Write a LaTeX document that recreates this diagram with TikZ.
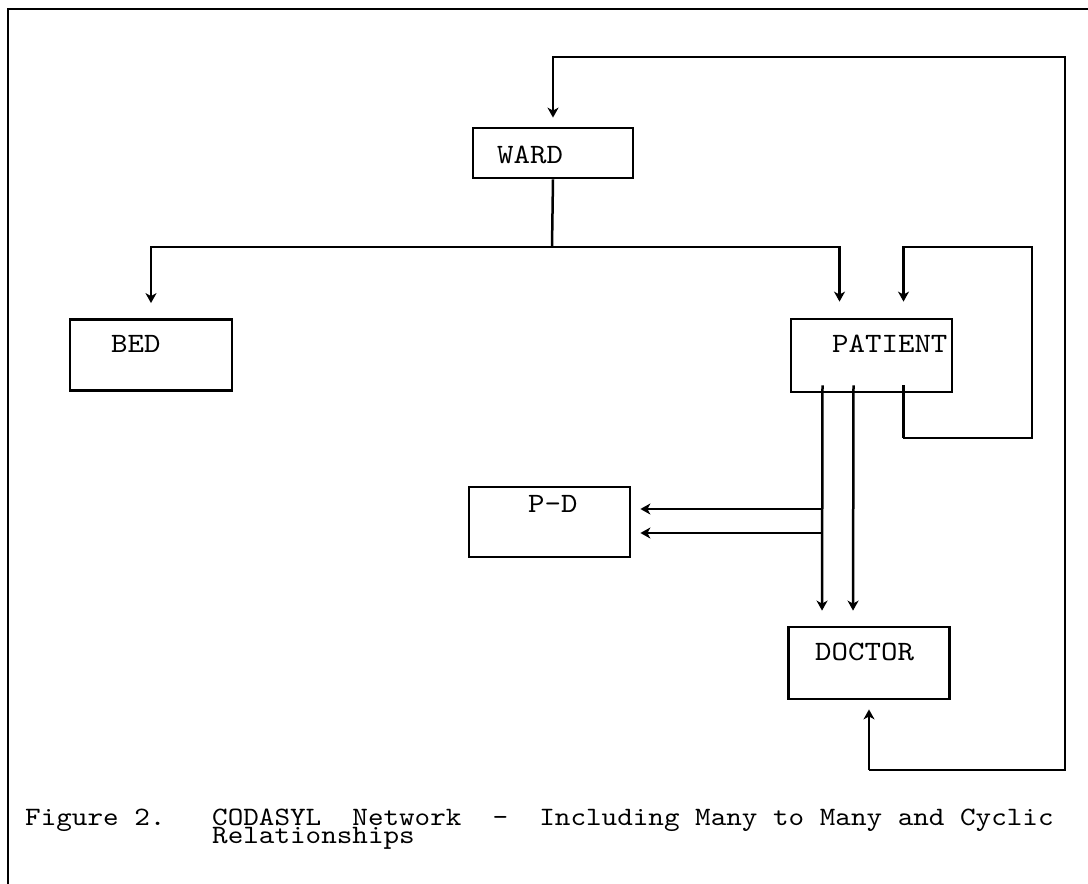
\documentclass[tikz,border=0pt]{standalone}
\usepackage{fontspec}
\usepackage{tikz}
\usetikzlibrary{arrows.meta}
\newfontfamily\maquina{lmmono10-regular.otf}[FakeStretch=1.12]
\tikzstyle{registro} = [draw=black, line width=2.8pt, rectangle, inner sep=0pt]
\tikzstyle{rotulo} = [anchor=base west, inner sep=0pt, font=\maquina\fontsize{28}{28}\selectfont]
\tikzstyle{leyenda} = [anchor=base west, inner sep=0pt, font=\maquina\fontsize{26.5}{26.5}\selectfont]
\tikzstyle{enlace} = [line width=2.5pt, -{Stealth[length=10pt,width=11pt,inset=3pt]}]
\tikzstyle{tramo} = [line width=2.5pt]

\begin{document}
\begin{tikzpicture}[x=1pt, y=-1pt]
		\useasboundingbox (0,0) rectangle (1088,884);
		% marco
		\draw[line width=2.6pt] (8,884) -- (8,9) -- (1088,9);
		% registros
		\node[registro, minimum width=160pt, minimum height=50pt](ward) at (553,153){};
		\node[registro, minimum width=162pt, minimum height=71pt](bed) at (151,355){};
		\node[registro, minimum width=161pt, minimum height=73pt](patient) at (871.5,355.5){};
		\node[registro, minimum width=161pt, minimum height=70pt](pd) at (549.5,522){};
		\node[registro, minimum width=161pt, minimum height=72pt](doctor) at (869,663){};
		\node[rotulo](wardtxt) at (497,163){WARD};
		\node[rotulo](bedtxt) at (111,352){BED};
		\node[rotulo](patienttxt) at (832,352){PATIENT};
		\node[rotulo](pdtxt) at (528,512){P-D};
		\node[rotulo](doctortxt) at (815,660){DOCTOR};
		% puntos de paso
		\coordinate (bar) at (552,247);
		\coordinate (loopA) at (903,438);
		\coordinate (loopB) at (1032,247);
		\coordinate (retA) at (869,770);
		\coordinate (retB) at (1065,57);
		\coordinate (split1) at (822,509);
		\coordinate (split2) at (822,533);
		% WARD -> BED, PATIENT
		\draw[tramo] (ward.south) -- (bar);
		\draw[enlace, shorten >=15pt] (bar) -| (bed.north);
		\draw[enlace, shorten >=16pt] (bar) -| ([xshift=-32pt]patient.north);
		% ciclo de PATIENT
		\draw[enlace, shorten >=16pt] ([xshift=32pt,yshift=8pt]patient.south) |- (loopA) -| (loopB) -| ([xshift=32pt]patient.north);
		% PATIENT -> DOCTOR, P-D
		\draw[enlace, shorten >=15pt] ([xshift=-49pt,yshift=8pt]patient.south) -- ([xshift=-47pt]doctor.north);
		\draw[enlace, shorten >=15pt] ([xshift=-18pt,yshift=8pt]patient.south) -- ([xshift=-16pt]doctor.north);
		\draw[enlace, shorten >=9pt] (split1) -- (split1 -| pd.east);
		\draw[enlace, shorten >=9pt] (split2) -- (split2 -| pd.east);
		% DOCTOR -> WARD
		\draw[enlace, shorten >=9pt] (retA) -| (retB) -| (ward.north);
		\draw[enlace, shorten >=9pt] (retA) -- (retA |- doctor.south);
		% leyenda
		\node[leyenda](cap1) at (25,825){Figure 2.~~~CODASYL~~Network~~-~~Including Many to Many and Cyclic};
		\node[leyenda](cap2) at (212,843){Relationships};
	\end{tikzpicture}
\end{document}
